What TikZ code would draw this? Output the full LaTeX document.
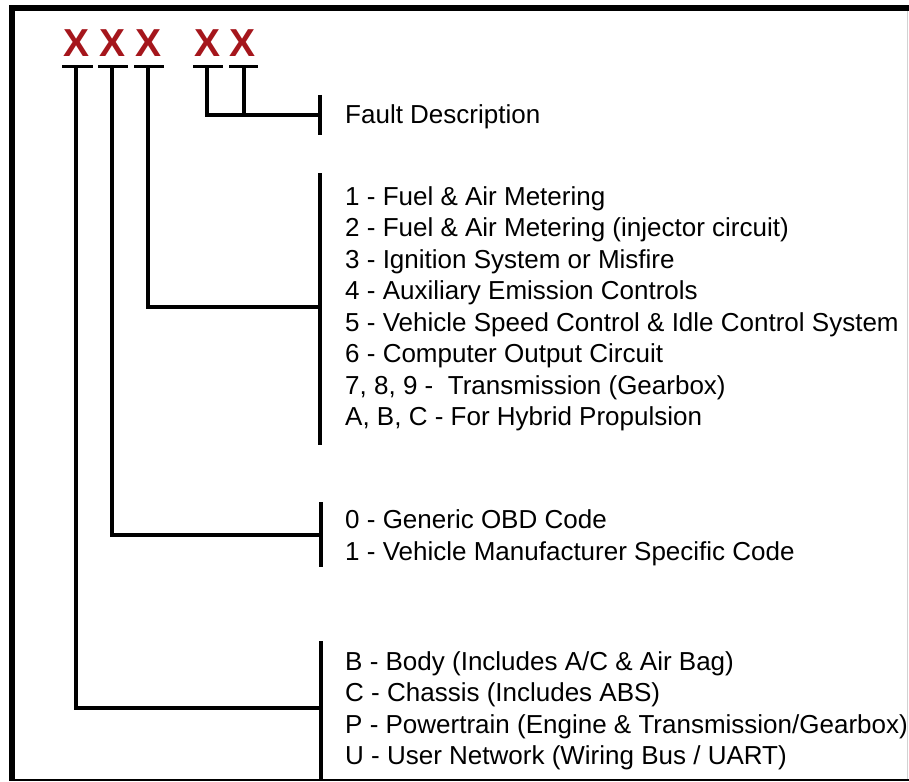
\documentclass[tikz,border=0pt]{standalone}
\usepackage{fontspec}
\setmainfont{Liberation Sans}
\definecolor{xred}{RGB}{165,22,28}
\begin{document}
\begin{tikzpicture}[x=1pt,y=-1pt,
  lbl/.style={anchor=base west,inner sep=0pt,font=\fontsize{26}{31}\selectfont},
  digit/.style={anchor=base,inner sep=0pt,font=\fontsize{39}{40}\selectfont\bfseries,text=xred},
  wire/.style={line width=4pt},
  ubar/.style={line width=3.5pt},
  frame/.style={line width=6pt}]
\useasboundingbox (0,0) rectangle (909,781);
\fill[white] (0,0) rectangle (909,781);
% frame
\draw[frame] (12,781) -- (12,8) -- (909,8);
\draw[line width=2pt] (9,779.5) -- (909,779.5);
\draw[gray!35,line width=1pt] (907.5,11) -- (907.5,779);
% code letters
\node[digit] (x1) at (77,57) {X};
\node[digit] (x2) at (113,57) {X};
\node[digit] (x3) at (149,57) {X};
\node[digit] (x4) at (208,57) {X};
\node[digit] (x5) at (243,57) {X};
% underbars
\draw[ubar] (62,66.5) -- (93,66.5);
\draw[ubar] (98,66.5) -- (128,66.5);
\draw[ubar] (134,66.5) -- (164,66.5);
\draw[ubar] (193,66.5) -- (223,66.5);
\draw[ubar] (229,66.5) -- (258,66.5);
\coordinate (u1) at (76,66.5);
\coordinate (u2) at (112,66.5);
\coordinate (u3) at (148,66.5);
\coordinate (u4) at (207,66.5);
\coordinate (u5) at (244,66.5);
% bracket bars
\coordinate (fd) at (320,115);
\coordinate (c1) at (320,307);
\coordinate (c2) at (321,535);
\coordinate (c3) at (321,708);
\draw[wire] (320,95) -- (320,135);
\draw[wire] (320,173) -- (320,445);
\draw[wire] (321,502) -- (321,567);
\draw[wire] (321,641) -- (321,781);
% connectors
\draw[wire] (u4) |- (fd);
\draw[wire] (u5) -- (u5 |- fd);
\draw[wire] (u3) |- (c1);
\draw[wire] (u2) |- (c2);
\draw[wire] (u1) |- (c3);
% texts
\node[lbl] (fdt) at (345,123) {Fault Description};
\node[lbl] (a1) at (345,205) {1 - Fuel \& Air Metering};
\node[lbl] (a2) at (345,236.5) {2 - Fuel \& Air Metering (injector circuit)};
\node[lbl] (a3) at (345,268) {3 - Ignition System or Misfire};
\node[lbl] (a4) at (345,299.5) {4 - Auxiliary Emission Controls};
\node[lbl] (a5) at (345,331) {5 - Vehicle Speed Control \& Idle Control System};
\node[lbl] (a6) at (345,362.5) {6 - Computer Output Circuit};
\node[lbl] (a7) at (345,394) {7, 8, 9 -\ \ Transmission (Gearbox)};
\node[lbl] (a8) at (345,425.5) {A, B, C - For Hybrid Propulsion};
\node[lbl] (b1) at (345,528) {0 - Generic OBD Code};
\node[lbl] (b2) at (345,560) {1 - Vehicle Manufacturer Specific Code};
\node[lbl] (d1) at (345,670) {B - Body (Includes A/C \& Air Bag)};
\node[lbl] (d2) at (345,701.5) {C - Chassis (Includes ABS)};
\node[lbl] (d3) at (345,733) {P - Powertrain (Engine \& Transmission/Gearbox)};
\node[lbl] (d4) at (345,764.5) {U - User Network (Wiring Bus / UART)};
\end{tikzpicture}
\end{document}
